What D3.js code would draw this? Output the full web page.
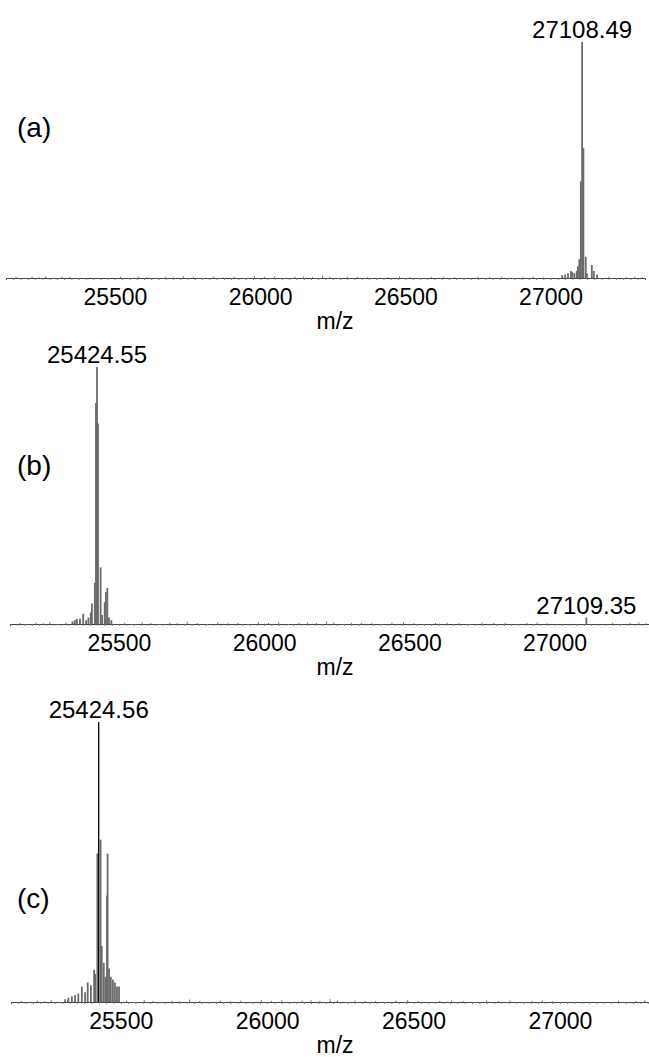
<!DOCTYPE html>
<html>
<head>
<meta charset="utf-8">
<script src="https://cdn.jsdelivr.net/npm/d3@7"></script>
<style>
  body { margin:0; background:#fff; }
  text { font-family: "Liberation Sans", Arial, sans-serif; fill:#000; }
</style>
</head>
<body>
<svg width="649" height="1057"></svg>
<script>
// tick labels on every m/z axis
var tickValues = [25500, 26000, 26500, 27000];
var xDomain = [25125, 27325];

// [m/z, relative intensity %]
var specA = [
  [27040, 1.2], [27050, 1.5], [27060, 2], [27070, 3], [27075, 2.5], [27082, 2],
  [27090, 3], [27094, 5], [27099, 8], [27104, 41], [27108.49, 100], [27113, 55],
  [27121, 9], [27125, 2], [27142, 5.5], [27149, 3], [27160, 1.5]
];
var specB = [
  [25340, 1], [25348, 1.5], [25355, 2], [25366, 2], [25377, 4], [25387, 1.5],
  [25395, 2.5], [25403, 4.5], [25407, 8], [25417, 16], [25421, 86], [25424.55, 100],
  [25428, 78], [25437, 22], [25442, 3.5], [25451, 8.5], [25455, 12.5], [25460, 14],
  [25466, 2.5], [25474, 1.5], [27109.35, 2.5]
];
var specC = [
  [25310, 1], [25321, 1.5], [25333, 2], [25344, 2.5], [25355, 3], [25367, 5.5],
  [25378, 3.5], [25387, 7], [25398, 6], [25409, 11.5], [25413, 10], [25420, 53],
  [25431, 58], [25435, 20], [25442, 14], [25448, 9], [25453, 38], [25455, 53],
  [25460, 12], [25466, 9], [25473, 8], [25480, 7], [25487, 5.5], [25494, 5.5]
];
// main line of panel (c) drawn in black
var mainC = [[25424.56, 100]];

// baseline noise, shared by the three traces
var noise = [
  [25160, 0.4], [25190, -0.3], [25215, 0.5], [25240, 0.3], [25262, 0.8], [25290, -0.4],
  [25318, 0.6], [25345, 0.4], [25520, 0.5], [25545, -0.3], [25580, 0.7], [25610, 0.4],
  [25640, -0.3], [25675, 0.5], [25700, 0.3], [25735, 0.9], [25770, 0.4], [25805, -0.4],
  [25840, 0.6], [25875, 0.3], [25910, 0.5], [25945, -0.3], [25980, 0.8], [26015, 0.4],
  [26050, 0.6], [26085, -0.4], [26120, 0.5], [26150, 0.7], [26180, 0.4], [26215, 1.0],
  [26240, 0.6], [26270, -0.3], [26300, 0.5], [26335, 0.4], [26370, 0.3], [26405, -0.4],
  [26440, 0.5], [26480, 0.7], [26515, 0.3], [26550, -0.3], [26590, 0.4], [26630, 0.5],
  [26670, 0.3], [26710, -0.4], [26750, 0.6], [26790, 0.4], [26830, 0.5], [26870, -0.3],
  [26905, 0.4], [26940, 0.6], [26975, 0.3], [27200, 0.5], [27230, -0.3], [27260, 0.4],
  [27290, 0.6], [27315, 0.3]
];

var labelsA = [["27108.49", 27108.49, 100]];
var labelsB = [["25424.55", 25424.55, 100], ["27109.35", 27109.35, 2.5]];
var labelsC = [["25424.56", 25424.56, 100]];

var svg = d3.select("svg");

var panels = [
  { name: "(a)", spec: specA, labels: labelsA, base: 278, top: 42,  nameY: 137, range: [6, 645] },
  { name: "(b)", spec: specB, labels: labelsB, base: 624, top: 367, nameY: 475, range: [10, 649] },
  { name: "(c)", spec: specC, labels: labelsC, base: 1002, top: 722, nameY: 908, range: [11, 655], black: mainC }
];

panels.forEach(function (p) {
  var x = d3.scaleLinear().domain(xDomain).range(p.range);
  var y = d3.scaleLinear().domain([0, 100]).range([p.base, p.top]);
  var g = svg.append("g");

  // minor ticks on the baseline
  g.append("g")
    .attr("transform", "translate(0," + p.base + ")")
    .call(d3.axisBottom(x).tickValues(d3.range(25150, 27325, 25)).tickSize(2).tickFormat(""))
    .call(function (s) {
      s.select(".domain").attr("stroke", "#444").attr("stroke-width", 1);
      s.selectAll(".tick line").attr("stroke", "#777");
    });

  // labelled ticks
  g.append("g")
    .attr("transform", "translate(0," + p.base + ")")
    .call(d3.axisBottom(x).tickValues(tickValues).tickSize(0).tickPadding(11).tickFormat(d3.format("d")))
    .call(function (s) {
      s.select(".domain").remove();
      s.selectAll("text").attr("font-size", 23).attr("fill", "#000");
    });

  g.append("text")
    .attr("x", 335)
    .attr("y", p.base + 51)
    .attr("text-anchor", "middle")
    .attr("font-size", 23)
    .text("m/z");

  g.selectAll(".noise").data(noise).enter().append("line")
    .attr("x1", function (d) { return x(d[0]); })
    .attr("x2", function (d) { return x(d[0]); })
    .attr("y1", p.base)
    .attr("y2", function (d) { return y(d[1]); })
    .attr("stroke", "#777")
    .attr("stroke-width", 1);

  g.selectAll(".peak").data(p.spec).enter().append("line")
    .attr("x1", function (d) { return x(d[0]); })
    .attr("x2", function (d) { return x(d[0]); })
    .attr("y1", p.base)
    .attr("y2", function (d) { return y(d[1]); })
    .attr("stroke", "#6a6a6a")
    .attr("stroke-width", 1.8);

  if (p.black) {
    g.selectAll(".main").data(p.black).enter().append("line")
      .attr("x1", function (d) { return x(d[0]); })
      .attr("x2", function (d) { return x(d[0]); })
      .attr("y1", p.base)
      .attr("y2", function (d) { return y(d[1]); })
      .attr("stroke", "#000")
      .attr("stroke-width", 1.3);
  }

  g.selectAll(".lbl").data(p.labels).enter().append("text")
    .attr("x", function (d) { return x(d[1]); })
    .attr("y", function (d) { return y(d[2]) - 4; })
    .attr("text-anchor", "middle")
    .attr("font-size", 24)
    .text(function (d) { return d[0]; });

  g.append("text")
    .attr("x", 17)
    .attr("y", p.nameY)
    .attr("font-size", 28)
    .text(p.name);
});
</script>
</body>
</html>
